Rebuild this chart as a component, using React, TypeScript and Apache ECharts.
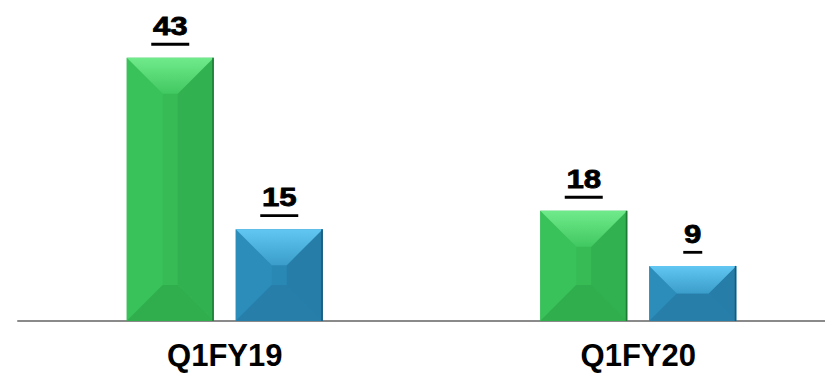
import React, { useEffect, useRef } from "react";
import * as echarts from "echarts";

const categories = ["Q1FY19", "Q1FY20"];
const greenValues = [43, 18];
const blueValues = [15, 9];
const yMax = 50;

const palettes = {
  green: {
    front: "#36bb55",
    topA: "#70ea8b",
    topB: "#41c861",
    bottom: "#30ad4d",
    left: "#39c15a",
    right: "#32b150",
    edge: "#1f7a35",
  },
  blue: {
    front: "#2a88b4",
    topA: "#62c7f2",
    topB: "#3a9dca",
    bottom: "#267ea9",
    left: "#2c8dbb",
    right: "#267da7",
    edge: "#1a587a",
  },
};

function makeRenderer(side: number, pal: typeof palettes.green) {
  return (params: any, api: any) => {
    const idx = api.value(0);
    const val = api.value(1);
    const base = api.coord([idx, 0]);
    const top = api.coord([idx, val]);
    const band = api.size([1, 0])[0];
    const barW = band * (87 / 413.5);
    const gap = band * (22 / 413.5);
    const cx = base[0] + (side * (barW + gap)) / 2;
    const x0 = cx - barW / 2;
    const x1 = cx + barW / 2;
    const yT = top[1];
    const yB = base[1];
    const h = yB - yT;
    const d = Math.min(36, h / 2);
    const label = String(val);
    const ulW = 19 * label.length;
    return {
      type: "group",
      children: [
        { type: "rect", shape: { x: x0, y: yT, width: barW, height: h }, style: { fill: pal.front } },
        {
          type: "polygon",
          shape: { points: [[x0, yT], [x0 + d, yT + d], [x0 + d, yB - d], [x0, yB]] },
          style: { fill: pal.left },
        },
        {
          type: "polygon",
          shape: { points: [[x1, yT], [x1 - d, yT + d], [x1 - d, yB - d], [x1, yB]] },
          style: { fill: pal.right },
        },
        {
          type: "polygon",
          shape: { points: [[x0, yB], [x1, yB], [x1 - d, yB - d], [x0 + d, yB - d]] },
          style: { fill: pal.bottom },
        },
        {
          type: "polygon",
          shape: { points: [[x0, yT], [x1, yT], [x1 - d, yT + d], [x0 + d, yT + d]] },
          style: {
            fill: new echarts.graphic.LinearGradient(0, 0, 0, 1, [
              { offset: 0, color: pal.topA },
              { offset: 1, color: pal.topB },
            ]),
          },
        },
        { type: "rect", shape: { x: x1 - 1.5, y: yT, width: 1.5, height: h }, style: { fill: pal.edge } },
        {
          type: "group",
          x: cx,
          y: yT - 32,
          scaleX: 1.2,
          children: [
            {
              type: "text",
              x: 0,
              y: 0,
              style: {
                text: label,
                font: 'bold 26px "Liberation Sans", Arial, sans-serif',
                fill: "#000",
                stroke: "#000",
                lineWidth: 0.8,
                align: "center",
                verticalAlign: "middle",
              },
            },
          ],
        },
        {
          type: "rect",
          shape: { x: cx - ulW / 2, y: yT - 15, width: ulW, height: 2.8 },
          style: { fill: "#000" },
        },
      ],
    };
  };
}

export default function App() {
  const ref = useRef<HTMLDivElement>(null);
  useEffect(() => {
    if (!ref.current) return;
    const chart = echarts.init(ref.current, undefined, { renderer: "svg" });
    chart.setOption({
      animation: false,
      grid: { left: 18, width: 827, top: 15, bottom: 53, containLabel: false, outerBoundsMode: "none" },
      xAxis: {
        type: "category",
        data: categories,
        axisLine: { show: true, lineStyle: { color: "#8a8a8a", width: 2 } },
        axisTick: { show: false },
        axisLabel: {
          color: "#000",
          fontSize: 31,
          fontWeight: "bold",
          fontFamily: '"Liberation Sans", Arial, sans-serif',
          margin: 19,
        },
      },
      yAxis: { type: "value", min: 0, max: yMax, show: false, splitLine: { show: false } },
      series: [
        {
          type: "custom",
          renderItem: makeRenderer(-1, palettes.green),
          data: greenValues.map((v, i) => [i, v]),
          clip: false,
        },
        {
          type: "custom",
          renderItem: makeRenderer(1, palettes.blue),
          data: blueValues.map((v, i) => [i, v]),
          clip: false,
        },
      ],
    });
    return () => chart.dispose();
  }, []);
  return <div ref={ref} style={{ width: 825, height: 374, position: "absolute", left: 0, top: 0 }} />;
}
